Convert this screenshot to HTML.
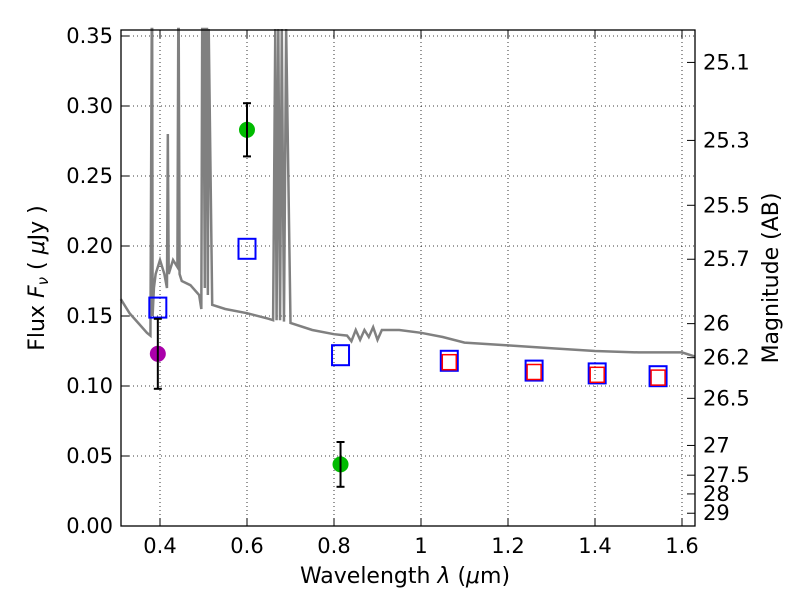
<!DOCTYPE html>
<html><head><meta charset="utf-8"><style>
body{margin:0;background:#fff;}
svg text{font-family:"DejaVu Sans","Liberation Sans",sans-serif;}
</style></head><body>
<svg id="chart" width="800" height="600" viewBox="0 0 800 600" xmlns="http://www.w3.org/2000/svg">
<g id="grid"></g>
<g id="spec"></g>
<g id="marks"></g>
<rect x="121" y="30" width="574" height="496" fill="none" stroke="#000" stroke-width="1.3"/>
<g id="axes"></g>
<text x="405" y="583" font-size="22" text-anchor="middle">Wavelength  <tspan font-style="italic">λ</tspan> (<tspan font-style="italic">μ</tspan>m)</text>
<text transform="translate(44,278) rotate(-90)" font-size="22" text-anchor="middle">Flux  <tspan font-style="italic">F</tspan><tspan font-style="italic" font-size="15" dy="4">ν</tspan><tspan dy="-4">  ( </tspan><tspan font-style="italic">μ</tspan>Jy )</text>
<text transform="translate(778,278) rotate(-90)" font-size="22" text-anchor="middle">Magnitude (AB)</text>
</svg>
<script>
const xTicks=[0.4,0.6,0.8,1,1.2,1.4,1.6];
const xTickLabels=["0.4","0.6","0.8","1","1.2","1.4","1.6"];
const yTicks=[0,0.05,0.10,0.15,0.20,0.25,0.30,0.35];
const yTickLabels=["0.00","0.05","0.10","0.15","0.20","0.25","0.30","0.35"];
const magTicks=[25.1,25.3,25.5,25.7,26,26.2,26.5,27,27.5,28,29];
const specWave=[0.31,0.33,0.35,0.37,0.378,0.381,0.382,0.383,0.386,0.39,0.395,0.40,0.41,0.416,0.418,0.42,0.43,0.44,0.442,0.443,0.445,0.45,0.47,0.49,0.495,0.497,0.50,0.503,0.505,0.508,0.51,0.512,0.52,0.55,0.6,0.65,0.66,0.665,0.668,0.672,0.676,0.68,0.685,0.69,0.70,0.75,0.8,0.83,0.84,0.85,0.86,0.87,0.88,0.89,0.9,0.91,0.92,0.95,1.0,1.05,1.1,1.15,1.2,1.3,1.4,1.5,1.6,1.63];
const specFlux=[0.162,0.152,0.145,0.138,0.136,0.36,0.36,0.15,0.17,0.18,0.185,0.19,0.18,0.17,0.28,0.18,0.19,0.185,0.36,0.36,0.18,0.175,0.172,0.165,0.155,0.36,0.36,0.17,0.36,0.36,0.165,0.36,0.158,0.155,0.152,0.148,0.147,0.36,0.147,0.36,0.147,0.36,0.146,0.36,0.145,0.14,0.137,0.136,0.132,0.14,0.133,0.14,0.135,0.142,0.133,0.14,0.14,0.14,0.138,0.135,0.131,0.13,0.129,0.127,0.125,0.124,0.124,0.121];
const dotWave=[0.6,0.815,0.395];
const dotFlux=[0.283,0.044,0.123];
const dotErr=[0.019,0.016,0.025];
const dotColor=["#00bb00","#00bb00","#aa00aa"];
const blueWave=[0.395,0.6,0.815,1.065,1.26,1.405,1.545];
const blueFlux=[0.156,0.198,0.122,0.118,0.111,0.109,0.107];
const redWave=[1.065,1.26,1.405,1.545];
const redFlux=[0.117,0.110,0.108,0.106];

const NS="http://www.w3.org/2000/svg";
const X=v=>160+(v-0.4)*435;
const Y=v=>526-v*1400;
function mk(t,a,p){const e=document.createElementNS(NS,t);for(const k in a)e.setAttribute(k,a[k]);p.appendChild(e);return e;}
const grid=document.getElementById('grid'),axes=document.getElementById('axes'),spec=document.getElementById('spec'),marks=document.getElementById('marks');

xTicks.forEach((t,i)=>{const x=X(t);
 const g=mk('line',{x1:x,x2:x,y1:30,y2:526,stroke:'#000','stroke-width':0.8,'stroke-dasharray':'1,3'},grid);
 
 mk('line',{x1:x,x2:x,y1:526,y2:518,stroke:'#000'},axes);mk('line',{x1:x,x2:x,y1:30,y2:38,stroke:'#000'},axes);
 const l=mk('text',{x:x,y:553,'font-size':21,'text-anchor':'middle'},axes);l.textContent=xTickLabels[i];
 });
yTicks.forEach((t,i)=>{const y=Y(t);
 const g=mk('line',{x1:121,x2:695,y1:y,y2:y,stroke:'#000','stroke-width':0.8,'stroke-dasharray':'1,3'},grid);
 
 mk('line',{x1:121,x2:129,y1:y,y2:y,stroke:'#000'},axes);
 const l=mk('text',{x:113,y:y+7,'font-size':21,'text-anchor':'end'},axes);l.textContent=yTickLabels[i];
 });
magTicks.forEach(m=>{const f=Math.pow(10,(23.9-m)/2.5);const y=Y(f);
 mk('line',{x1:695,x2:687,y1:y,y2:y,stroke:'#000'},axes);
 const l=mk('text',{x:703,y:y+7,'font-size':21},axes);l.textContent=String(m);
 });

const pl=mk('polyline',{points:specWave.map((w,i)=>X(w)+','+Y(Math.min(specFlux[i],0.355))).join(' '),fill:'none',stroke:'#808080','stroke-width':2.5},spec);


blueWave.forEach((w,i)=>{const r=mk('rect',{x:X(w)-8.5,y:Y(blueFlux[i])-10,width:17,height:20,fill:'none',stroke:'#0000ff','stroke-width':2},marks);
 });
redWave.forEach((w,i)=>{const r=mk('rect',{x:X(w)-7,y:Y(redFlux[i])-7.5,width:14,height:15,fill:'none',stroke:'#ff0000','stroke-width':1.5},marks);
 });
dotWave.forEach((w,i)=>{const x=X(w),y=Y(dotFlux[i]),e=dotErr[i];
 const c=mk('circle',{cx:x,cy:y,r:8,fill:dotColor[i]},marks);
 
 const eb=mk('g',{stroke:'#000','stroke-width':2},marks);
 
 mk('line',{x1:x,x2:x,y1:Y(dotFlux[i]+e),y2:Y(dotFlux[i]-e)},eb);
 mk('line',{x1:x-4,x2:x+4,y1:Y(dotFlux[i]+e),y2:Y(dotFlux[i]+e)},eb);
 mk('line',{x1:x-4,x2:x+4,y1:Y(dotFlux[i]-e),y2:Y(dotFlux[i]-e)},eb);});
</script>
</body></html>
